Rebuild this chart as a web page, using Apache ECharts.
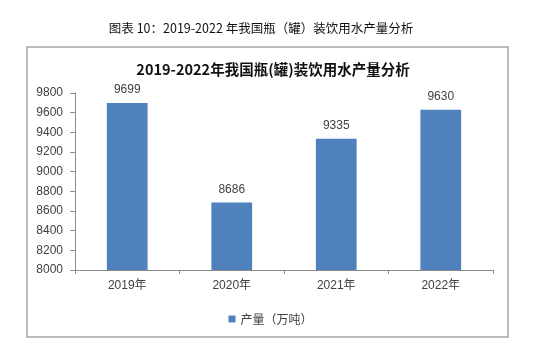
<!DOCTYPE html>
<html><head><meta charset="utf-8">
<script src="https://cdn.jsdelivr.net/npm/echarts@6/dist/echarts.min.js"></script>
<style>html,body{margin:0;padding:0;background:#fff}#c{width:541px;height:349px}</style>
</head><body><div id="c"></div>
<script>
var categories = ['2019年', '2020年', '2021年', '2022年'];
var production = [9699, 8686, 9335, 9630];
var seriesName = '产量（万吨）';
var yMin = 8000, yMax = 9800, yStep = 200;

var chart = echarts.init(document.getElementById('c'), null, {renderer: 'canvas'});
var font = '"Liberation Sans", "Noto Sans CJK SC", sans-serif';
chart.setOption({
  animation: false,
  backgroundColor: '#fff',
  title: [{
    text: '图表 10：2019-2022 年我国瓶（罐）装饮用水产量分析',
    left: 256, top: 17, textAlign: 'center',
    textStyle: {fontFamily: '"Noto Sans CJK SC", sans-serif', fontSize: 12.5, fontWeight: 'normal', color: '#111'}
  }, {
    text: '2019-2022年我国瓶(罐)装饮用水产量分析',
    left: 268, top: 57, textAlign: 'center',
    textStyle: {fontFamily: '"Noto Sans CJK SC", sans-serif', fontSize: 14.5, fontWeight: 'bold', color: '#111'}
  }],
  graphic: [{
    type: 'rect', shape: {x: 27, y: 47, width: 481, height: 290},
    style: {fill: null, stroke: '#a6a6a6', lineWidth: 1.5}, silent: true
  }],
  grid: {left: 75, right: 48, top: 93, bottom: 79},
  legend: {
    data: [seriesName], left: 'center', top: 308, itemWidth: 7, itemHeight: 7, itemGap: 4,
    icon: 'rect',
    textStyle: {fontFamily: '"Noto Sans CJK SC", sans-serif', fontSize: 12, color: '#404040'}
  },
  xAxis: {
    type: 'category', data: categories,
    axisLine: {lineStyle: {color: '#8c8c8c', width: 1}},
    axisTick: {show: true, length: 4, lineStyle: {color: '#8c8c8c'}},
    axisLabel: {fontFamily: font, fontSize: 12, color: '#404040', margin: 10}
  },
  yAxis: {
    type: 'value', min: yMin, max: yMax, interval: yStep,
    axisLine: {show: true, lineStyle: {color: '#8c8c8c', width: 1}},
    axisTick: {show: true, length: 5, lineStyle: {color: '#8c8c8c'}},
    splitLine: {show: false},
    axisLabel: {fontFamily: font, fontSize: 12, color: '#404040', margin: 12,
      formatter: function (v) { return String(v); }}
  },
  series: [{
    name: seriesName, type: 'bar', data: production, barWidth: '39%',
    itemStyle: {color: '#4f81bd'},
    label: {show: true, position: 'top', distance: 7, fontFamily: font, fontSize: 12, color: '#404040'}
  }]
});
</script></body></html>
